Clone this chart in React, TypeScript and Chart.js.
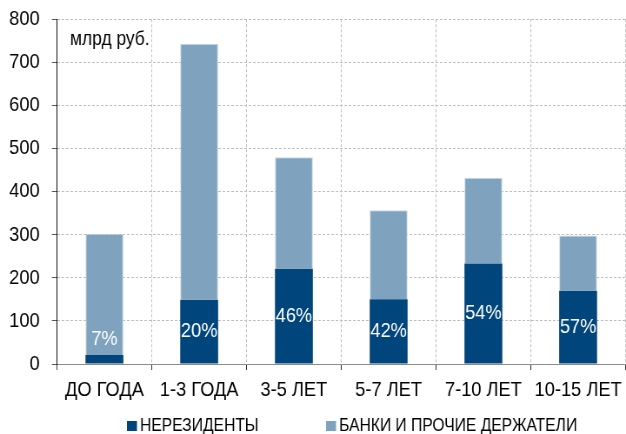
import React, { useEffect, useRef } from 'react';
import { Chart, registerables } from 'chart.js';

Chart.register(...registerables);

const categories = ['ДО ГОДА', '1-3 ГОДА', '3-5 ЛЕТ', '5-7 ЛЕТ', '7-10 ЛЕТ', '10-15 ЛЕТ'];
const nonResidents = [21, 149, 221, 150, 233, 170];
const banksAndOthers = [281, 594, 259, 207, 199, 128];
const shareLabels = ['7%', '20%', '46%', '42%', '54%', '57%'];
const seriesNames = ['НЕРЕЗИДЕНТЫ', 'БАНКИ И ПРОЧИЕ ДЕРЖАТЕЛИ'];
const unitLabel = 'млрд руб.';
const yMin = 0;
const yMax = 800;
const yStep = 100;

const DARK = '#00457b';
const LIGHT = '#7fa3be';
const FONT = "'Liberation Sans', Arial, sans-serif";
const LOGICAL_W = 723;
const H = 434;
const SX = 626 / 720;

export default function App() {
  const ref = useRef<HTMLCanvasElement>(null);

  useEffect(() => {
    document.body.style.margin = '0';
    const canvas = ref.current;
    if (!canvas) return;

    const overlay = {
      id: 'overlay',
      afterDatasetsDraw(chart: any) {
        const ctx = chart.ctx as CanvasRenderingContext2D;
        const meta = chart.getDatasetMeta(0);
        ctx.save();
        ctx.font = `21px ${FONT}`;
        ctx.fillStyle = '#ffffff';
        ctx.textAlign = 'center';
        ctx.textBaseline = 'middle';
        meta.data.forEach((bar: any, i: number) => {
          const { x, y, base } = bar.getProps(['x', 'y', 'base'], true);
          const h = base - y;
          const cy = h < 30 ? y - 16 : (y + base) / 2;
          ctx.fillText(shareLabels[i], x, cy);
        });

        ctx.fillStyle = '#000000';
        ctx.textAlign = 'left';
        ctx.textBaseline = 'alphabetic';
        ctx.font = `20px ${FONT}`;
        ctx.fillText(unitLabel, chart.chartArea.left + 15, 45);

        // legend
        const items = [
          { x: 146, color: DARK, text: chart.data.datasets[0].label },
          { x: 375, color: LIGHT, text: chart.data.datasets[1].label },
        ];
        ctx.font = `18px ${FONT}`;
        items.forEach((it) => {
          ctx.fillStyle = it.color;
          ctx.fillRect(it.x, 421, 11.5, 10);
          ctx.fillStyle = '#000000';
          ctx.fillText(it.text, it.x + 15, 431);
        });
        ctx.restore();
      },
    };

    const chart = new Chart(canvas, {
      type: 'bar',
      data: {
        labels: categories,
        datasets: [
          {
            label: seriesNames[0],
            data: nonResidents,
            backgroundColor: DARK,
            borderWidth: 0,
            barPercentage: 0.4,
            categoryPercentage: 1,
          },
          {
            label: seriesNames[1],
            data: banksAndOthers,
            backgroundColor: LIGHT,
            borderColor: '#c9d9e6',
            borderWidth: 1,
            barPercentage: 0.4,
            categoryPercentage: 1,
          },
        ],
      },
      options: {
        responsive: false,
        animation: false,
        devicePixelRatio: 1,
        layout: { padding: { top: 17, left: 0, right: 0, bottom: 0 } },
        plugins: {
          legend: { display: false },
          tooltip: { enabled: false },
        },
        scales: {
          x: {
            stacked: true,
            grid: {
              offset: true,
              color: '#bfbfbf',
              tickLength: 6,
              tickColor: '#333333',
              drawOnChartArea: true,
            },
            border: { color: '#8c8c8c', dash: [3, 2] },
            ticks: { color: '#000000', font: { size: 21, family: FONT }, padding: 8 },
            afterFit: (s: any) => {
              s.height = 70;
            },
          },
          y: {
            stacked: true,
            min: yMin,
            max: yMax,
            ticks: {
              stepSize: yStep,
              color: '#000000',
              font: { size: 21, family: FONT, lineHeight: 0.5 },
              padding: 14,
            },
            grid: { color: '#bfbfbf', tickLength: 6, tickColor: '#555555' },
            border: { color: '#000000', dash: [3, 2] },
            afterFit: (s: any) => {
              s.width = 65.6;
            },
          },
        },
      },
      plugins: [overlay],
    });

    return () => chart.destroy();
  }, []);

  return (
    <div style={{ position: 'absolute', left: 0, top: 0, width: 626, height: H, overflow: 'hidden', background: '#fff' }}>
      <div style={{ width: LOGICAL_W, height: H, transform: `scaleX(${SX})`, transformOrigin: '0 0' }}>
        <canvas ref={ref} width={LOGICAL_W} height={H} style={{ display: 'block' }} />
      </div>
    </div>
  );
}
